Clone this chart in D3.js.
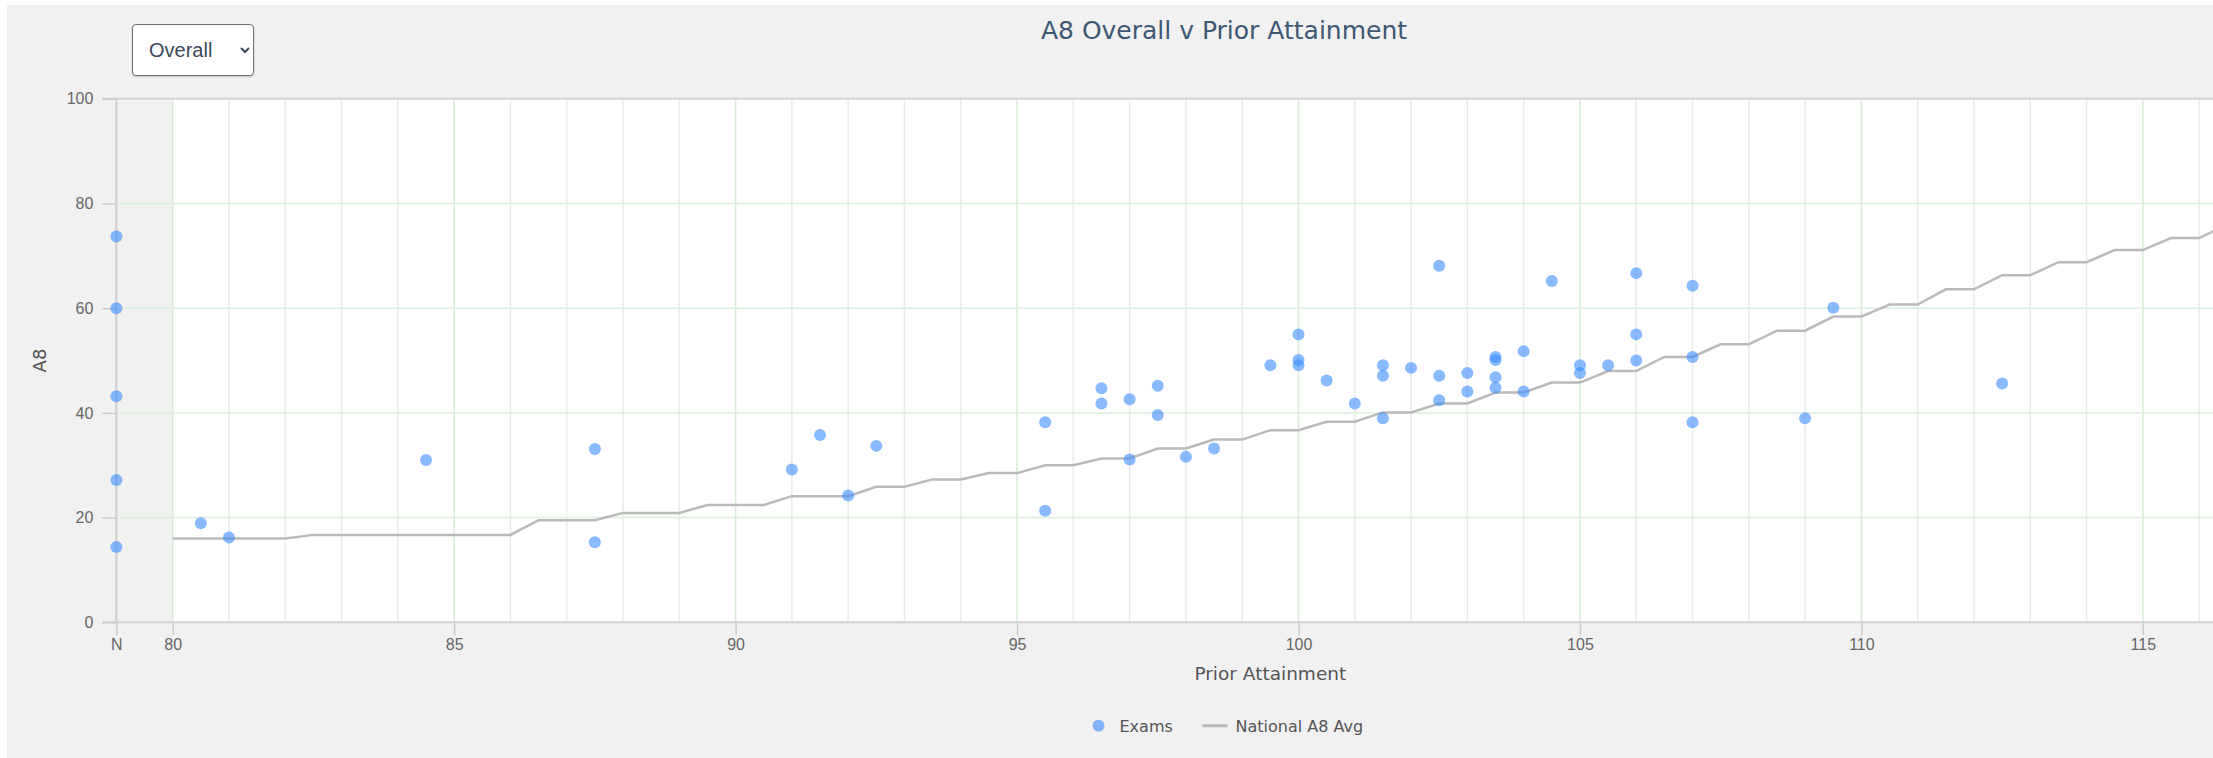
<!DOCTYPE html>
<html>
<head>
<meta charset="utf-8">
<script src="https://cdn.jsdelivr.net/npm/d3@7"></script>
<style>
body { margin: 0; background: #fff; width: 2213px; height: 758px; overflow: hidden; position: relative; }
svg { position: absolute; left: 0; top: 0; z-index: 0; }
#pick {
  position: absolute; left: 132px; top: 24px; width: 122px; height: 52px; z-index: 2;
  font-family: "Liberation Sans", Arial, sans-serif; font-size: 20px; color: #3b4a5c;
  background: #fff; border: 1px solid #707070; border-radius: 4px;
  padding: 0 0 0 12px; box-shadow: 0 1px 2px rgba(0,0,0,.2);
}
</style>
</head>
<body>
<select id="pick"><option>Overall</option><option>English</option><option>Maths</option></select>
<script>
// pupils with no prior attainment ("N" column)
var nScores = [73.7, 60.0, 43.2, 27.2, 14.4];

// exam results: prior attainment vs A8
var examPA = [80.5, 81, 84.5, 87.5, 87.5, 91, 91.5, 92, 92.5, 95.5, 95.5, 96.5, 96.5, 97, 97,
  97.5, 97.5, 98, 98.5, 99.5, 100, 100, 100, 100.5, 101, 101.5, 101.5, 101.5, 102,
  102.5, 102.5, 102.5, 103, 103, 103.5, 103.5, 103.5, 103.5, 104, 104, 104.5, 105, 105,
  105.5, 106, 106, 106, 107, 107, 107, 109, 109.5, 112.5];
var examA8 = [18.9, 16.2, 31.0, 33.1, 15.3, 29.2, 35.8, 24.2, 33.7, 38.2, 21.3, 44.7, 41.8, 42.6, 31.1,
  45.2, 39.6, 31.6, 33.2, 49.1, 55.0, 50.1, 49.1, 46.2, 41.8, 49.1, 47.1, 39.0, 48.6,
  68.1, 47.1, 42.4, 47.6, 44.1, 50.7, 50.1, 46.8, 44.8, 51.8, 44.1, 65.2, 49.1, 47.6,
  49.1, 66.7, 55.0, 50.0, 64.3, 50.7, 38.2, 39.0, 60.1, 45.6];

// national A8 average by prior attainment
var natPA = [80, 80.5, 81, 81.5, 82, 82.5, 83, 83.5, 84, 84.5, 85, 85.5, 86, 86.5, 87, 87.5,
  88, 88.5, 89, 89.5, 90, 90.5, 91, 91.5, 92, 92.5, 93, 93.5, 94, 94.5, 95, 95.5, 96, 96.5,
  97, 97.5, 98, 98.5, 99, 99.5, 100, 100.5, 101, 101.5, 102, 102.5, 103, 103.5, 104, 104.5,
  105, 105.5, 106, 106.5, 107, 107.5, 108, 108.5, 109, 109.5, 110, 110.5, 111, 111.5, 112,
  112.5, 113, 113.5, 114, 114.5, 115, 115.5, 116, 116.5];
var natA8 = [16.0, 16.0, 16.0, 16.0, 16.0, 16.7, 16.7, 16.7, 16.7, 16.7, 16.7, 16.7, 16.7, 19.5, 19.5, 19.5,
  20.9, 20.9, 20.9, 22.4, 22.4, 22.4, 24.1, 24.1, 24.1, 25.9, 25.9, 27.3, 27.3, 28.5, 28.5, 30.0, 30.0, 31.3,
  31.3, 33.2, 33.2, 34.9, 34.9, 36.7, 36.7, 38.3, 38.3, 40.1, 40.1, 41.8, 41.8, 43.9, 43.9, 45.8,
  45.8, 48.0, 48.0, 50.7, 50.7, 53.1, 53.1, 55.7, 55.7, 58.4, 58.4, 60.7, 60.7, 63.6, 63.6,
  66.3, 66.3, 68.8, 68.8, 71.1, 71.1, 73.4, 73.4, 76.0];

var yTicks = [0, 20, 40, 60, 80, 100];
var xTicks = ["N", 80, 85, 90, 95, 100, 105, 110, 115];

var width = 2213, height = 758;
var NPOS = 79; // where the "N" column sits on the x scale

var xScale = d3.scaleLinear().domain([NPOS, 120]).range([116.4, 2424.3]),
    yScale = d3.scaleLinear().domain([0, 100]).range([622.3, 98.8]);
var xv = function(t) { return t === "N" ? NPOS : t; };

var svg = d3.select("body").append("svg")
    .attr("width", width)
    .attr("height", height)
    .style("font-family", "'DejaVu Sans', sans-serif");

// grey panel
svg.append("rect").attr("x", 7).attr("y", 5).attr("width", width - 7).attr("height", height - 5)
    .attr("fill", "#f1f1f1");

// white plot area (numeric part)
svg.append("rect")
    .attr("x", xScale(80)).attr("y", yScale(100))
    .attr("width", xScale(120) - xScale(80)).attr("height", yScale(0) - yScale(100))
    .attr("fill", "#fff");

// vertical grid
var minor = d3.range(81, 120).filter(function(v) { return v % 5 !== 0; });
svg.append("g").selectAll("line").data(minor).enter().append("line")
    .attr("x1", xScale).attr("x2", xScale)
    .attr("y1", yScale(100)).attr("y2", yScale(0))
    .attr("stroke", "#ebebeb").attr("stroke-width", 1.5);
svg.append("g").selectAll("line").data(d3.range(80, 121, 5)).enter().append("line")
    .attr("x1", xScale).attr("x2", xScale)
    .attr("y1", yScale(100)).attr("y2", yScale(0))
    .attr("stroke", "#d8ecd8").attr("stroke-width", 1.5);

// horizontal grid
svg.append("g").selectAll("line").data([20, 40, 60, 80]).enter().append("line")
    .attr("x1", xScale(NPOS)).attr("x2", xScale(120))
    .attr("y1", yScale).attr("y2", yScale)
    .attr("stroke", "#dcefdc").attr("stroke-width", 1.5);
svg.append("line")
    .attr("x1", xScale(NPOS) - 14).attr("x2", xScale(120))
    .attr("y1", yScale(100)).attr("y2", yScale(100))
    .attr("stroke", "#d4d4d4").attr("stroke-width", 2);

// N column line
svg.append("line")
    .attr("x1", xScale(NPOS)).attr("x2", xScale(NPOS))
    .attr("y1", yScale(100)).attr("y2", yScale(0))
    .attr("stroke", "#cfcfcf").attr("stroke-width", 2);

// y axis
var yAxis = d3.axisLeft(yScale).tickValues(yTicks).tickSize(14).tickPadding(9);
var gy = svg.append("g")
    .attr("transform", "translate(" + xScale(NPOS) + ",0)")
    .call(yAxis);
gy.select(".domain").remove();
gy.selectAll("line").attr("stroke", "#cccccc").attr("stroke-width", 1.5);
gy.selectAll("text").attr("fill", "#666").style("font-size", "16px");

// x axis
var xAxis = d3.axisBottom(xScale).tickValues(xTicks.map(xv)).tickSize(13).tickPadding(3)
    .tickFormat(function(d) { return d === NPOS ? "N" : d; });
var gx = svg.append("g")
    .attr("transform", "translate(0," + yScale(0) + ")")
    .call(xAxis);
gx.select(".domain").remove();
gx.selectAll("line").attr("stroke", "#cccccc").attr("stroke-width", 1.5);
gx.selectAll("text").attr("fill", "#666").style("font-size", "16px");
svg.append("line")
    .attr("x1", xScale(NPOS) - 14).attr("x2", xScale(120))
    .attr("y1", yScale(0)).attr("y2", yScale(0))
    .attr("stroke", "#d0d0d0").attr("stroke-width", 2);

// national average line
var natData = natPA.map(function(p, i) { return {pa: p, a8: natA8[i]}; });
svg.append("path")
    .datum(natData)
    .attr("fill", "none")
    .attr("stroke", "#bababa")
    .attr("stroke-width", 2.5)
    .attr("d", d3.line().x(function(d) { return xScale(d.pa); }).y(function(d) { return yScale(d.a8); }));

// exam dots
var examData = examPA.map(function(p, i) { return {pa: p, a8: examA8[i]}; })
    .concat(nScores.map(function(s) { return {pa: NPOS, a8: s}; }));
svg.selectAll(".dot")
    .data(examData)
    .enter().append("circle")
    .attr("class", "dot")
    .attr("r", 6)
    .attr("cx", function(d) { return xScale(d.pa); })
    .attr("cy", function(d) { return yScale(d.a8); })
    .attr("fill", "#3b8cff")
    .attr("fill-opacity", 0.6);

// titles
svg.append("text")
    .attr("x", 1224).attr("y", 39)
    .attr("text-anchor", "middle")
    .attr("fill", "#3d5875")
    .style("font-size", "25px")
    .text("A8 Overall v Prior Attainment");
svg.append("text")
    .attr("x", (xScale(NPOS) + xScale(120)) / 2).attr("y", 680)
    .attr("text-anchor", "middle")
    .attr("fill", "#555")
    .style("font-size", "18.5px")
    .text("Prior Attainment");
svg.append("text")
    .attr("transform", "translate(46," + yScale(50) + ") rotate(-90)")
    .attr("text-anchor", "middle")
    .attr("fill", "#555")
    .style("font-size", "18px")
    .text("A8");

// legend
var leg = svg.append("g").attr("transform", "translate(1098.5,725.7)");
leg.append("circle").attr("r", 6).attr("fill", "#3b8cff").attr("fill-opacity", 0.6);
leg.append("text").attr("x", 21).attr("y", 6).attr("fill", "#555").style("font-size", "16px").text("Exams");
leg.append("line").attr("x1", 104).attr("x2", 129).attr("stroke", "#bababa").attr("stroke-width", 3);
leg.append("text").attr("x", 137).attr("y", 6).attr("fill", "#555").style("font-size", "16px").text("National A8 Avg");
</script>
</body>
</html>
